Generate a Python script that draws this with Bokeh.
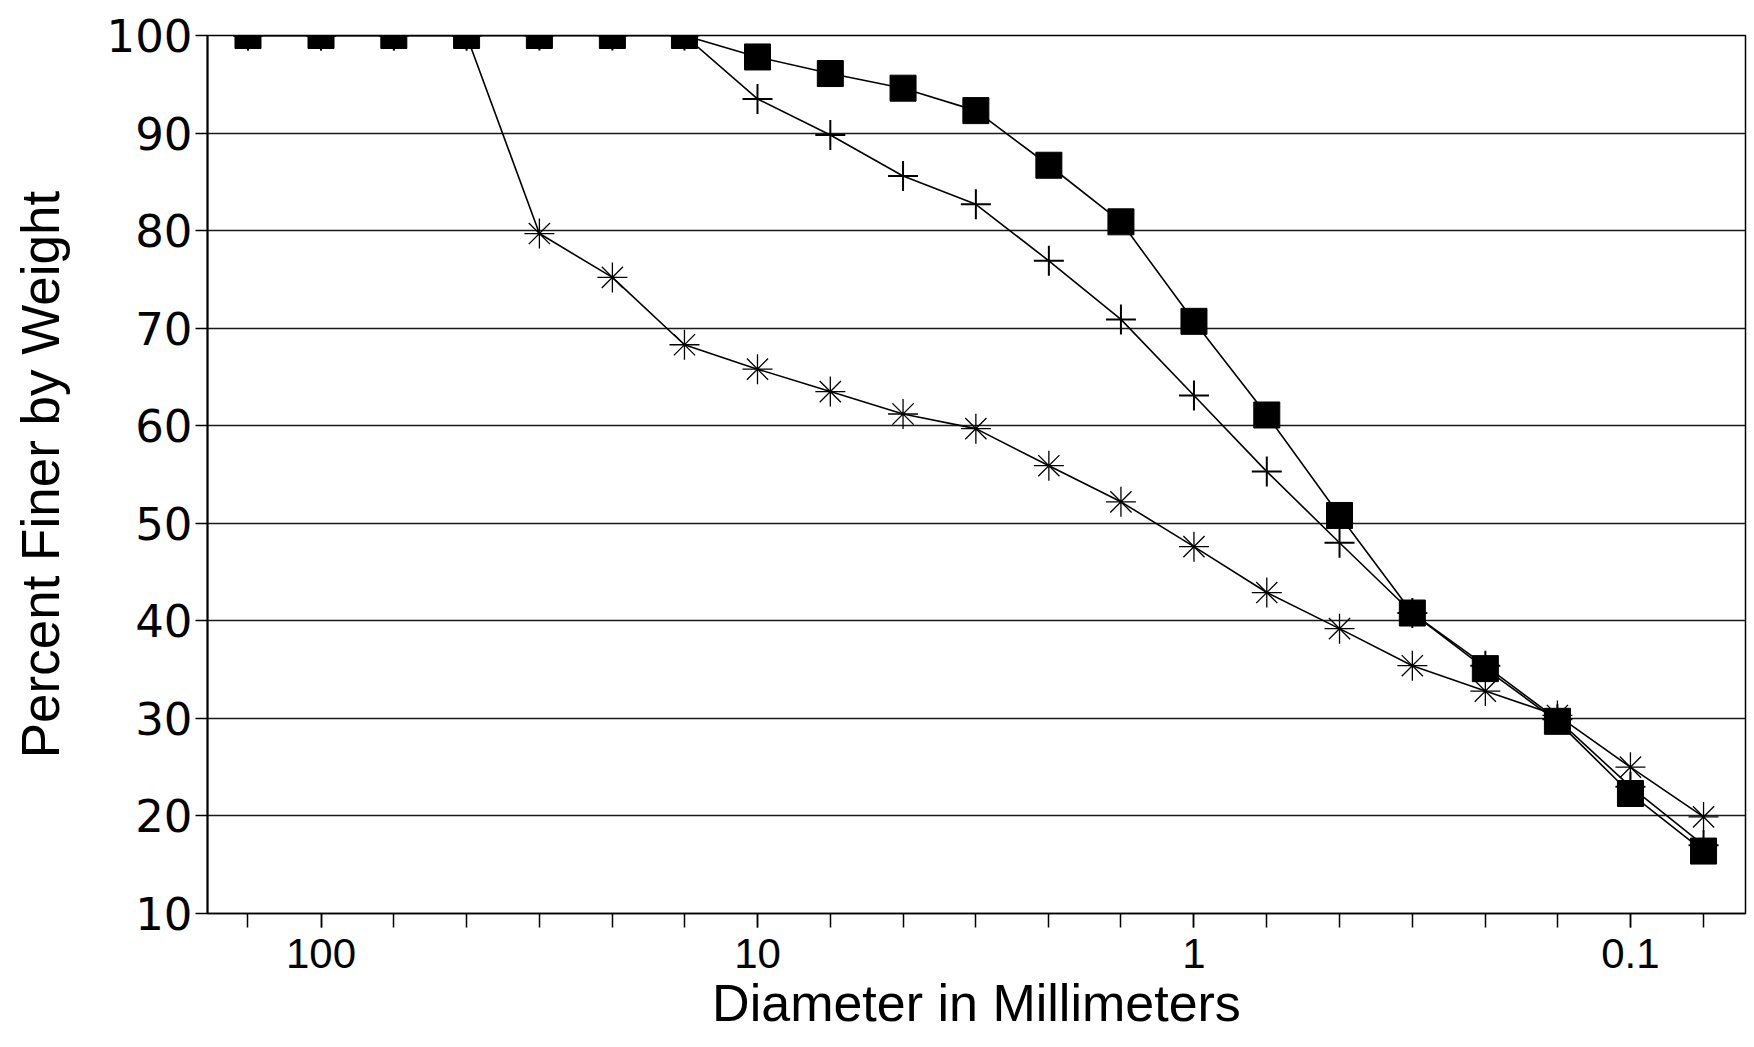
from bokeh.plotting import figure
from bokeh.models import FixedTicker, Range1d, CustomJSTickFormatter, ColumnDataSource
from bokeh.embed import file_html
from bokeh.resources import INLINE

# Sieve diameters (mm)
diameter = [147, 100, 68.1, 46.4, 31.6, 21.5, 14.7, 10, 6.81, 4.64, 3.16,
            2.15, 1.47, 1.0, 0.681, 0.464, 0.316, 0.215, 0.147, 0.1, 0.068]

# Percent finer by weight for the three samples
sample_square = [100, 100, 100, 100, 100, 100, 100, 97.8, 96.1, 94.6, 92.3,
                 86.7, 80.9, 70.7, 61.1, 50.8, 40.8, 35.1, 29.7, 22.3, 16.4]
sample_plus = [100, 100, 100, 100, 100, 100, 100, 93.5, 89.8, 85.6, 82.7,
               76.9, 70.9, 63.1, 55.3, 48.0, 40.8, 35.4, 29.9, 23.0, 17.0]
sample_star = [100, 100, 100, 100, 79.7, 75.2, 68.3, 65.8, 63.5, 61.2, 59.7,
               55.9, 52.2, 47.6, 42.9, 39.2, 35.4, 32.8, 30.3, 25.0, 19.9]

x_major = [100, 10, 1, 0.1]
y_ticks = [10, 20, 30, 40, 50, 60, 70, 80, 90, 100]

src = ColumnDataSource(dict(d=diameter, sq=sample_square, pl=sample_plus, st=sample_star))

p = figure(width=1750, height=1045, x_axis_type="log",
           x_range=Range1d(182, 0.0545), y_range=Range1d(10, 100),
           output_backend="svg", toolbar_location=None,
           min_border_left=207, min_border_right=5, min_border_top=35, min_border_bottom=132)

p.background_fill_color = "white"
p.border_fill_color = "white"
p.outline_line_color = "black"
p.outline_line_width = 1.5

# axes
p.xaxis.ticker = FixedTicker(ticks=x_major, minor_ticks=diameter)
p.xaxis.formatter = CustomJSTickFormatter(code="return String(tick)")
p.xaxis.major_tick_out = 14
p.xaxis.major_tick_in = 0
p.xaxis.minor_tick_out = 14
p.xaxis.minor_tick_in = 0
p.xaxis.major_tick_line_width = 1.5
p.xaxis.minor_tick_line_width = 1.5
p.xaxis.axis_line_width = 1.5
p.xaxis.major_label_text_font = "Liberation Sans"
p.xaxis.major_label_text_font_size = "42px"
p.xaxis.major_label_text_color = "black"
p.xaxis.major_label_standoff = 11
p.xaxis.axis_label = "Diameter in Millimeters"
p.xaxis.axis_label_text_font = "Liberation Sans"
p.xaxis.axis_label_text_font_size = "52px"
p.xaxis.axis_label_text_font_style = "normal"
p.xaxis.axis_label_text_color = "black"
p.xaxis.axis_label_standoff = 3

p.yaxis.ticker = FixedTicker(ticks=y_ticks, minor_ticks=[])
p.yaxis.major_tick_out = 12
p.yaxis.major_tick_in = 0
p.yaxis.major_tick_line_width = 1.5
p.yaxis.axis_line_width = 2
p.yaxis.major_label_text_font = "DejaVu Sans"
p.yaxis.major_label_text_font_size = "45px"
p.yaxis.major_label_text_color = "black"
p.yaxis.major_label_standoff = 3
p.yaxis.axis_label = "Percent Finer by Weight"
p.yaxis.axis_label_text_font = "Liberation Sans"
p.yaxis.axis_label_text_font_size = "53px"
p.yaxis.axis_label_text_font_style = "normal"
p.yaxis.axis_label_text_color = "black"
p.yaxis.axis_label_standoff = 34

p.xgrid.visible = False
p.ygrid.grid_line_color = "#1a1a1a"
p.ygrid.grid_line_width = 1.4

# series (asterisk, plus, then squares on top)
p.line("d", "st", source=src, line_color="black", line_width=1.6)
p.scatter("d", "st", source=src, marker="asterisk", size=30, line_color="black", line_width=1.3)
p.line("d", "pl", source=src, line_color="black", line_width=1.6)
p.scatter("d", "pl", source=src, marker="cross", size=30, line_color="black", line_width=2)
p.line("d", "sq", source=src, line_color="black", line_width=1.6)
p.scatter("d", "sq", source=src, marker="square", size=26, fill_color="black", line_color="black")

open("out.html", "w").write(file_html(p, INLINE))
